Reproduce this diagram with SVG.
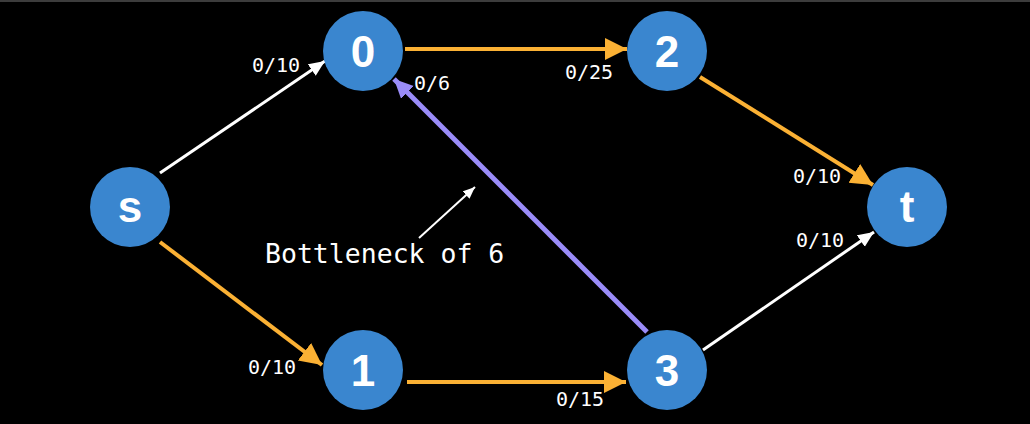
<svg xmlns="http://www.w3.org/2000/svg" width="1030" height="424" viewBox="0 0 1030 424">
<style>
.node circle{fill:#3a86cf}
.node text{font-family:"Liberation Sans",Arial,sans-serif;font-weight:bold;font-size:44px;fill:#fff;text-anchor:middle}
.lbl{font-family:"DejaVu Sans Mono",monospace;font-size:20px;fill:#fff}
.ann{font-family:"DejaVu Sans Mono",monospace;font-size:26.5px;fill:#fff}
.o{stroke:#fbb134;stroke-width:4;fill:none}
.w{stroke:#fff;stroke-width:3;fill:none}
.p{stroke:#9a8cf8;stroke-width:5;fill:none}
</style>
<defs>
<marker id="ao" markerUnits="userSpaceOnUse" markerWidth="24" markerHeight="24" refX="22" refY="11" orient="auto"><path d="M0,0 L22,11 L0,22 Z" fill="#fbb134"/></marker>
<marker id="aw" markerUnits="userSpaceOnUse" markerWidth="18" markerHeight="18" refX="16" refY="7" orient="auto"><path d="M0,0 L16,7 L0,14 Z" fill="#fff"/></marker>
<marker id="ap" markerUnits="userSpaceOnUse" markerWidth="22" markerHeight="22" refX="19" refY="9" orient="auto"><path d="M0,0 L19,9 L0,18 Z" fill="#9a8cf8"/></marker>
<marker id="aa" markerUnits="userSpaceOnUse" markerWidth="14" markerHeight="14" refX="12" refY="5" orient="auto"><path d="M0,0 L12,5 L0,10 Z" fill="#fff"/></marker>
</defs>
<rect width="1030" height="424" fill="#000"/>
<rect width="1030" height="2" fill="#3c3c3c"/>
<g id="connectors">
<path class="w" d="M160,173 L325,61" marker-end="url(#aw)"/>
<path class="o" d="M405,49 L627,49" marker-end="url(#ao)"/>
<path class="o" d="M700,77 L873,185" marker-end="url(#ao)"/>
<path class="o" d="M160,242 L322,365" marker-end="url(#ao)"/>
<path class="o" d="M407,382 L626,382" marker-end="url(#ao)"/>
<path class="w" d="M703,350 L874,232" marker-end="url(#aw)"/>
<path class="p" d="M647,332 L394,79" marker-end="url(#ap)"/>
<path stroke="#fff" stroke-width="2" fill="none" d="M419,238 L475,187" marker-end="url(#aa)"/>
</g>
<g id="labels">
<text class="lbl" x="252" y="72">0/10</text>
<text class="lbl" x="414" y="90">0/6</text>
<text class="lbl" x="565" y="79">0/25</text>
<text class="lbl" x="793" y="183">0/10</text>
<text class="lbl" x="796" y="247">0/10</text>
<text class="lbl" x="248" y="374">0/10</text>
<text class="lbl" x="556" y="406">0/15</text>
<text class="ann" x="265" y="263">Bottleneck of 6</text>
</g>
<g id="node-s" class="node"><circle cx="130" cy="207" r="40"/><text x="130" y="222">s</text></g>
<g id="node-0" class="node"><circle cx="363" cy="51" r="40"/><text x="363" y="67">0</text></g>
<g id="node-2" class="node"><circle cx="667" cy="51" r="40"/><text x="667" y="67">2</text></g>
<g id="node-t" class="node"><circle cx="907" cy="207" r="40"/><text x="907" y="222">t</text></g>
<g id="node-1" class="node"><circle cx="363" cy="370" r="40"/><text x="363" y="386">1</text></g>
<g id="node-3" class="node"><circle cx="667" cy="370" r="40"/><text x="667" y="386">3</text></g>
</svg>
